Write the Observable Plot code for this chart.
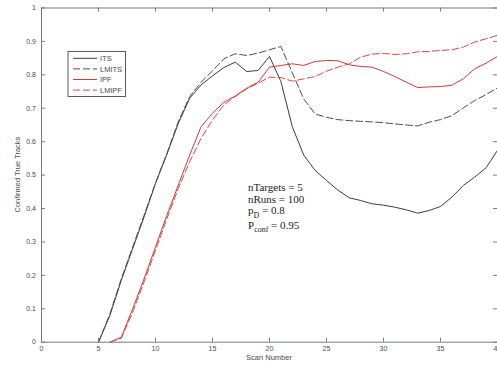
<!DOCTYPE html>
<html><head><meta charset="utf-8">
<script src="https://cdn.jsdelivr.net/npm/d3@7"></script>
<script src="https://cdn.jsdelivr.net/npm/@observablehq/plot@0.6"></script>
<style>
body{margin:0;background:#fff}
#wrap{position:relative;width:497px;height:366px;overflow:hidden}
#wrap svg{position:absolute;left:0;top:0}
</style>
</head><body><div id="wrap"></div>
<script>
// ---- data ----
const scansBlack = [5,6,7,8,9,10,11,12,13,14,15,16,17,18,19,20,21,22,23,24,25,26,27,28,29,30,31,32,33,34,35,36,37,38,39,40];
const scansRed = [6,7,8,9,10,11,12,13,14,15,16,17,18,19,20,21,22,23,24,25,26,27,28,29,30,31,32,33,34,35,36,37,38,39,40];
const its =   [0,0.08,0.185,0.28,0.375,0.475,0.562,0.655,0.73,0.77,0.797,0.822,0.838,0.81,0.813,0.855,0.78,0.645,0.56,0.514,0.484,0.455,0.432,0.424,0.414,0.41,0.404,0.396,0.386,0.394,0.406,0.434,0.469,0.494,0.522,0.574];
const lmits = [0,0.085,0.19,0.285,0.38,0.477,0.565,0.66,0.735,0.778,0.812,0.848,0.863,0.858,0.865,0.875,0.885,0.806,0.728,0.683,0.673,0.666,0.663,0.661,0.659,0.657,0.653,0.65,0.647,0.658,0.666,0.678,0.701,0.723,0.741,0.761];
const ipf =   [0,0.015,0.1,0.19,0.285,0.38,0.47,0.56,0.645,0.685,0.718,0.737,0.76,0.778,0.823,0.828,0.833,0.828,0.84,0.843,0.842,0.83,0.825,0.823,0.81,0.795,0.778,0.762,0.764,0.765,0.769,0.788,0.818,0.835,0.855];
const lmipf = [0,0.012,0.09,0.18,0.275,0.37,0.46,0.54,0.61,0.665,0.71,0.735,0.758,0.775,0.793,0.792,0.781,0.788,0.795,0.811,0.823,0.833,0.853,0.862,0.864,0.861,0.863,0.869,0.87,0.873,0.875,0.883,0.898,0.908,0.918];
const seriesNames = ["ITS","LMITS","IPF","LMIPF"];
const xTicks = [0,5,10,15,20,25,30,35,40];
const yTicks = [0,0.1,0.2,0.3,0.4,0.5,0.6,0.7,0.8,0.9,1];
const yTickLabels = ["0","0.1","0.2","0.3","0.4","0.5","0.6","0.7","0.8","0.9","1"];
const xLabel = "Scan Number";
const yLabel = "Confirmed True Tracks";
const notes = [["nTargets = 5",""],["nRuns = 100",""],["p","D"," = 0.8"],["P","conf"," = 0.95"]];

// ---- styles ----
const styles = {
  ITS:   {stroke:"#3c3c3c", dash:null},
  LMITS: {stroke:"#4e4e4e", dash:"7,3"},
  IPF:   {stroke:"#d03a3a", dash:null},
  LMIPF: {stroke:"#d84848", dash:"7,3"}
};

const rows = [];
scansBlack.forEach((s,i)=>{rows.push({scan:s,v:its[i],series:"ITS"});});
scansBlack.forEach((s,i)=>{rows.push({scan:s,v:lmits[i],series:"LMITS"});});
scansRed.forEach((s,i)=>{rows.push({scan:s,v:ipf[i],series:"IPF"});});
scansRed.forEach((s,i)=>{rows.push({scan:s,v:lmipf[i],series:"LMIPF"});});

const W = 497, H = 366, mL = 41, mR = 0, mT = 7.5, mB = 24.3;
const pW = W - mL - mR, pH = H - mT - mB;
const axisCol = "#7a7a7a", labCol = "#4a4a4a";
const sans = "'Liberation Sans', Arial, sans-serif";

const lineMarks = seriesNames.map(n => Plot.line(rows.filter(r=>r.series===n), {
  x:"scan", y:"v", stroke: styles[n].stroke, strokeWidth:1,
  strokeDasharray: styles[n].dash || undefined
}));

const chart = Plot.plot({
  width: W, height: H,
  marginLeft: mL, marginRight: mR, marginTop: mT, marginBottom: mB,
  style: {background:"transparent", fontFamily: sans},
  x: {domain:[0,40]},
  y: {domain:[0,1]},
  marks: [
    ...lineMarks,
    Plot.frame({stroke: axisCol, strokeWidth:1}),
    Plot.tickX(xTicks, {x:d=>d, stroke:axisCol, insetTop: pH-4}),
    Plot.tickX(xTicks, {x:d=>d, stroke:axisCol, insetBottom: pH-4}),
    Plot.tickY(yTicks, {y:d=>d, stroke:axisCol, insetRight: pW-4}),
    Plot.tickY(yTicks, {y:d=>d, stroke:axisCol, insetLeft: pW-4}),
    Plot.axisX(xTicks, {tickSize:0, tickPadding:3.5, fontSize:7, fill:labCol, label:null}),
    Plot.axisY(yTicks, {tickSize:0, tickPadding:5.5, fontSize:7, fill:labCol, label:null,
      tickFormat:(d,i)=>yTickLabels[i]})
  ]
});
document.getElementById("wrap").appendChild(chart);

// overlay: axis titles, legend, annotation
const ov = d3.select("#wrap").append("svg").attr("width",W).attr("height",H)
  .style("pointer-events","none");
ov.append("text").attr("x", mL + pW/2).attr("y", 359.5).attr("text-anchor","middle")
  .attr("font-family",sans).attr("font-size",7.5).attr("fill",labCol).text(xLabel);
ov.append("text").attr("transform",`translate(20,${mT+pH/2}) rotate(-90)`).attr("text-anchor","middle")
  .attr("font-family",sans).attr("font-size",7.5).attr("fill",labCol).text(yLabel);

// legend
const lg = ov.append("g");
lg.append("rect").attr("x",68).attr("y",51.5).attr("width",57.5).attr("height",45)
  .attr("fill","#fff").attr("stroke","#5a5a5a").attr("stroke-width",1);
seriesNames.forEach((n,i)=>{
  const y = 58.3 + i*10.6;
  lg.append("line").attr("x1",73).attr("x2",97).attr("y1",y).attr("y2",y)
    .attr("stroke",styles[n].stroke).attr("stroke-width",1)
    .attr("stroke-dasharray",styles[n].dash);
  lg.append("text").attr("x",100).attr("y",y).attr("dy","0.35em")
    .attr("font-family",sans).attr("font-size",7.5).attr("fill",labCol).text(n);
});

// annotation
const serif = "'Liberation Serif', 'Times New Roman', serif";
const baselines = [191, 202.5, 214, 228.5];
notes.forEach((parts,i)=>{
  const t = ov.append("text").attr("x",248).attr("y",baselines[i])
    .attr("font-family",serif).attr("font-size",11).attr("fill","#1a1a1a");
  if (parts.length === 2) { t.text(parts[0]); return; }
  t.append("tspan").text(parts[0]);
  t.append("tspan").attr("font-size",8).attr("dy",3.5).text(parts[1]);
  t.append("tspan").attr("dy",-3.5).text(parts[2]);
});
</script>
</body></html>
